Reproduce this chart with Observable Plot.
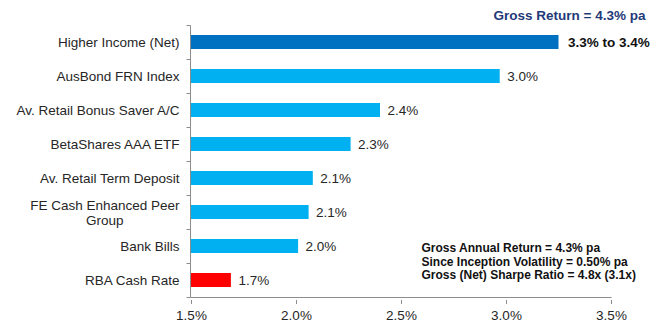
<!DOCTYPE html>
<html>
<head>
<meta charset="utf-8">
<script src="https://cdn.jsdelivr.net/npm/d3@7"></script>
<script src="https://cdn.jsdelivr.net/npm/@observablehq/plot@0.6"></script>
<style>
  html, body { margin: 0; padding: 0; background: #fff; }
  #chart { width: 661px; height: 323px; }
</style>
</head>
<body>
<div id="chart"></div>
<script>
const categories = [
  "Higher Income (Net)",
  "AusBond FRN Index",
  "Av. Retail Bonus Saver A/C",
  "BetaShares AAA ETF",
  "Av. Retail Term Deposit",
  "FE Cash Enhanced Peer\nGroup",
  "Bank Bills",
  "RBA Cash Rate"
];
const values = [3.25, 2.97, 2.40, 2.26, 2.08, 2.06, 2.01, 1.69];
const valueLabels = ["3.3% to 3.4%", "3.0%", "2.4%", "2.3%", "2.1%", "2.1%", "2.0%", "1.7%"];
const barColors = ["#0070C0", "#00B0F0", "#00B0F0", "#00B0F0", "#00B0F0", "#00B0F0", "#00B0F0", "#FF0000"];
const boldLabel = [true, false, false, false, false, false, false, false];
const xTicks = [1.5, 2.0, 2.5, 3.0, 3.5];
const titleText = "Gross Return = 4.3% pa";
const noteLines = [
  "Gross Annual Return = 4.3% pa",
  "Since Inception Volatility = 0.50% pa",
  "Gross (Net) Sharpe Ratio = 4.8x (3.1x)"
];

const data = categories.map((c, i) => ({
  cat: c, value: values[i], label: valueLabels[i], color: barColors[i], bold: boldLabel[i]
}));

const FONT = "Liberation Sans, Arial, Helvetica, sans-serif";
const AXIS = "#8C8C8C";
const TEXT = "#262626";

// axis lines and band-boundary ticks on the y axis (drawn from the scales)
function axisFrame(index, scales, vals, dims) {
  const y = scales.y, x = scales.x;
  const bw = typeof y.bandwidth === "function" ? y.bandwidth() : y.bandwidth;
  const step = y(categories[1]) - y(categories[0]);
  const off = (step - bw) / 2;
  const x0 = Math.round(x(xTicks[0])) - 0.5;
  const x1 = Math.round(x(xTicks[xTicks.length - 1])) + 0.5;
  const g = d3.create("svg:g");
  const ys = categories.map(c => Math.round(y(c) - off) + 0.5);
  ys.push(Math.round(y(categories[categories.length - 1]) - off + step) + 0.5);
  const yBottom = ys[ys.length - 1];
  for (const yy of ys) {
    g.append("line").attr("x1", x0 - 4).attr("x2", x0).attr("y1", yy).attr("y2", yy)
      .attr("stroke", AXIS).attr("stroke-width", 1);
  }
  g.append("line").attr("x1", x0).attr("x2", x0).attr("y1", ys[0]).attr("y2", yBottom)
    .attr("stroke", AXIS).attr("stroke-width", 1);
  g.append("line").attr("x1", x0).attr("x2", x1).attr("y1", yBottom).attr("y2", yBottom)
    .attr("stroke", AXIS).attr("stroke-width", 1);
  return g.node();
}

const chart = Plot.plot({
  width: 661,
  height: 323,
  marginLeft: 191,
  marginRight: 50,
  marginTop: 22,
  marginBottom: 23,
  style: { fontFamily: FONT, fontSize: "13.5px", color: TEXT, background: "#fff" },
  x: { domain: [1.5, 3.5], ticks: xTicks, tickFormat: d => d.toFixed(1) + "%" },
  y: { domain: categories, paddingInner: 0.6, paddingOuter: 0.3 },
  marks: [
    Plot.barX(data, { y: "cat", x1: 1.5, x2: "value", fill: "color" }),
    Plot.text(data.filter(d => !d.bold), {
      y: "cat", x: "value", text: "label", textAnchor: "start", dx: 7,
      fill: TEXT, fontSize: 13.5
    }),
    Plot.text(data.filter(d => d.bold), {
      y: "cat", x: "value", text: "label", textAnchor: "start", dx: 9,
      fill: "#111", fontWeight: "bold", fontSize: 13.5
    }),
    Plot.axisX({ ticks: xTicks, tickSize: 4, tickPadding: 6, stroke: AXIS, fill: TEXT,
      tickFormat: d => d.toFixed(1) + "%", label: null, fontSize: 13.5 }),
    Plot.axisY({ tickSize: 0, tickPadding: 12, label: null, fill: TEXT, fontSize: 13.5, lineHeight: 1.1 }),
    axisFrame,
    Plot.text([titleText], {
      text: d => d, frameAnchor: "top-right", textAnchor: "end", lineAnchor: "middle",
      dx: 34, dy: -6.5, fill: "#1F3A78", fontWeight: "bold", fontSize: 13.5
    }),
    Plot.text([noteLines.join("\n")], {
      text: d => d, frameAnchor: "bottom-right", textAnchor: "start", lineAnchor: "middle",
      dx: -190, dy: -39, fill: "#111", fontWeight: "bold", fontSize: 12, lineHeight: 1.12
    })
  ]
});

document.getElementById("chart").appendChild(chart);

// centre the lines of wrapped y-axis labels, as in the original
chart.querySelectorAll("text").forEach(t => {
  const spans = t.querySelectorAll("tspan");
  if (spans.length > 1 && t.closest("[aria-label='y-axis tick label']")) {
    const widths = Array.from(spans).map(s => s.getComputedTextLength());
    const maxW = Math.max(...widths);
    t.setAttribute("text-anchor", "middle");
    spans.forEach(s => s.setAttribute("x", -maxW / 2));
  }
});
</script>
</body>
</html>
